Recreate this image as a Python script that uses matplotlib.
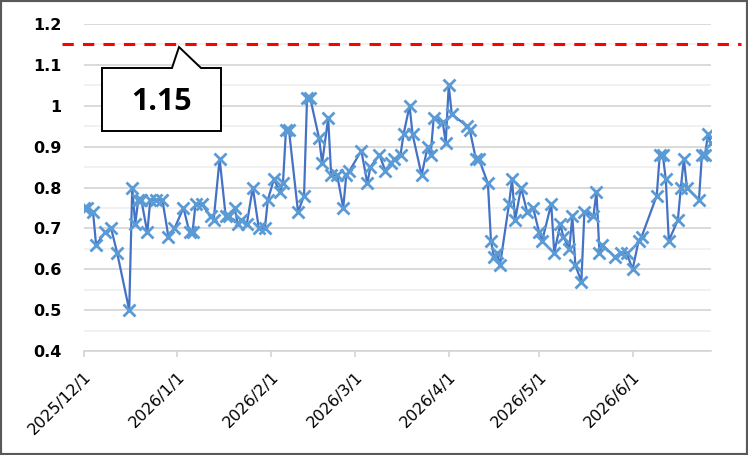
import matplotlib.pyplot as plt
import matplotlib.dates as mdates
import matplotlib.transforms as mtransforms
from matplotlib.patches import Polygon, Rectangle
from matplotlib.ticker import MultipleLocator, FuncFormatter
import numpy as np

# days after 2025/12/1 and the matching values
start = np.datetime64('2025-12-01')
day_offsets = [0, 1, 3, 4, 7, 9, 11, 15, 16, 17, 18, 19, 21, 22, 24, 26, 28, 30, 33, 35,
               36, 37, 39, 42, 43, 45, 47, 48, 50, 51, 52, 54, 56, 58, 60, 61, 63, 65, 66, 67,
               68, 71, 73, 74, 75, 78, 79, 81, 82, 84, 86, 87, 88, 92, 94, 95, 98, 100, 102, 103,
               105, 106, 108, 109, 112, 114, 115, 116, 119, 120, 121, 122, 127, 128, 130, 131, 134, 135, 136, 137,
               138, 141, 142, 143, 145, 147, 149, 151, 152, 155, 156, 158, 159, 161, 162, 163, 165, 166, 169, 170,
               171, 172, 176, 178, 180, 182, 184, 185, 190, 191, 192, 193, 194, 197, 198, 199, 200, 204, 205, 206,
               207, 208]
values = [0.75, 0.75, 0.74, 0.66, 0.69, 0.70, 0.64, 0.50, 0.80, 0.71, 0.77, 0.77, 0.69, 0.77, 0.77, 0.77, 0.68, 0.70, 0.75, 0.69,
          0.69, 0.76, 0.76, 0.73, 0.72, 0.87, 0.73, 0.73, 0.75, 0.71, 0.72, 0.71, 0.80, 0.70, 0.70, 0.77, 0.82, 0.79, 0.81, 0.94,
          0.94, 0.74, 0.78, 1.02, 1.02, 0.92, 0.86, 0.97, 0.83, 0.83, 0.75, 0.83, 0.84, 0.89, 0.81, 0.85, 0.88, 0.84, 0.86, 0.87,
          0.88, 0.93, 1.00, 0.93, 0.83, 0.90, 0.88, 0.97, 0.96, 0.91, 1.05, 0.98, 0.95, 0.94, 0.87, 0.87, 0.81, 0.67, 0.63, 0.64,
          0.61, 0.76, 0.82, 0.72, 0.80, 0.74, 0.75, 0.69, 0.67, 0.76, 0.64, 0.71, 0.68, 0.65, 0.73, 0.61, 0.57, 0.74, 0.73, 0.79,
          0.64, 0.66, 0.63, 0.64, 0.64, 0.60, 0.67, 0.68, 0.78, 0.88, 0.88, 0.82, 0.67, 0.72, 0.80, 0.87, 0.80, 0.77, 0.88, 0.88,
          0.93, 0.91]
threshold = 1.15
month_ticks = ['2025-12-01', '2026-01-01', '2026-02-01', '2026-03-01', '2026-04-01', '2026-05-01', '2026-06-01']

dates = (start + np.array(day_offsets)).astype('datetime64[D]').astype(object)
W, H = 748, 455


def fx(px):
    return px / W


def fy(py):
    return 1 - py / H


fig = plt.figure(figsize=(W / 100, H / 100), dpi=100)
ax = fig.add_axes([fx(84), fy(351), fx(711) - fx(84), fy(24) - fy(351)])

ax.plot(dates, values, color='#4472C4', lw=1.6, marker='x', ms=8, mew=2,
        mec='#5B9BD5', zorder=3)

ax.set_ylim(0.4, 1.2)
ax.set_xlim(dates[0], dates[-1])
ax.yaxis.set_major_locator(MultipleLocator(0.1))
ax.yaxis.set_minor_locator(MultipleLocator(0.05))
ax.yaxis.set_major_formatter(FuncFormatter(lambda v, p: '%g' % round(v, 2)))
ax.grid(axis='y', which='major', color='#D4D4D4', lw=1.2)
ax.grid(axis='y', which='minor', color='#EFEFEF', lw=1.2)
ax.set_axisbelow(True)

ax.set_xticks([np.datetime64(t).astype(object) for t in month_ticks])
ax.xaxis.set_major_formatter(FuncFormatter(
    lambda v, p: '%d/%d/%d' % (mdates.num2date(v).year, mdates.num2date(v).month, mdates.num2date(v).day)))
for lab in ax.get_xticklabels():
    lab.set_rotation(45)
    lab.set_ha('right')
    lab.set_rotation_mode('anchor')
    lab.set_fontsize(11.5)

ax.tick_params(axis='y', which='both', length=0, pad=16, labelsize=11.5)
for lab in ax.get_yticklabels():
    lab.set_fontweight('bold')
ax.tick_params(axis='x', length=4, color='#D4D4D4', width=1.2, pad=9)

for s in ['top', 'right', 'left']:
    ax.spines[s].set_visible(False)
ax.spines['bottom'].set_color('#D4D4D4')
ax.spines['bottom'].set_linewidth(1.2)

# red threshold line, spans wider than the plot area
trans = mtransforms.blended_transform_factory(fig.transFigure, ax.transData)
ax.plot([fx(62), fx(741)], [threshold, threshold], transform=trans, color='#FF0000',
        lw=2.2, dashes=(3.7, 3), clip_on=False, zorder=4)

# callout box
pts = [(102, 68), (172, 68), (179, 47), (201, 68), (221, 68), (221, 131), (102, 131)]
fig.patches.append(Polygon([(fx(x), fy(y)) for x, y in pts], closed=True, transform=fig.transFigure,
                           facecolor='white', edgecolor='black', lw=1.4, zorder=5))
fig.text(fx(161.5), fy(102), '%g' % threshold, ha='center', va='center', fontsize=22,
         fontweight='bold', family='Open Sans', zorder=6)

# outer frame
fig.patches.append(Rectangle((0, 0), 1, 1, transform=fig.transFigure, fill=False,
                             edgecolor='#595959', lw=3))

fig.savefig('out.png', dpi=100)
